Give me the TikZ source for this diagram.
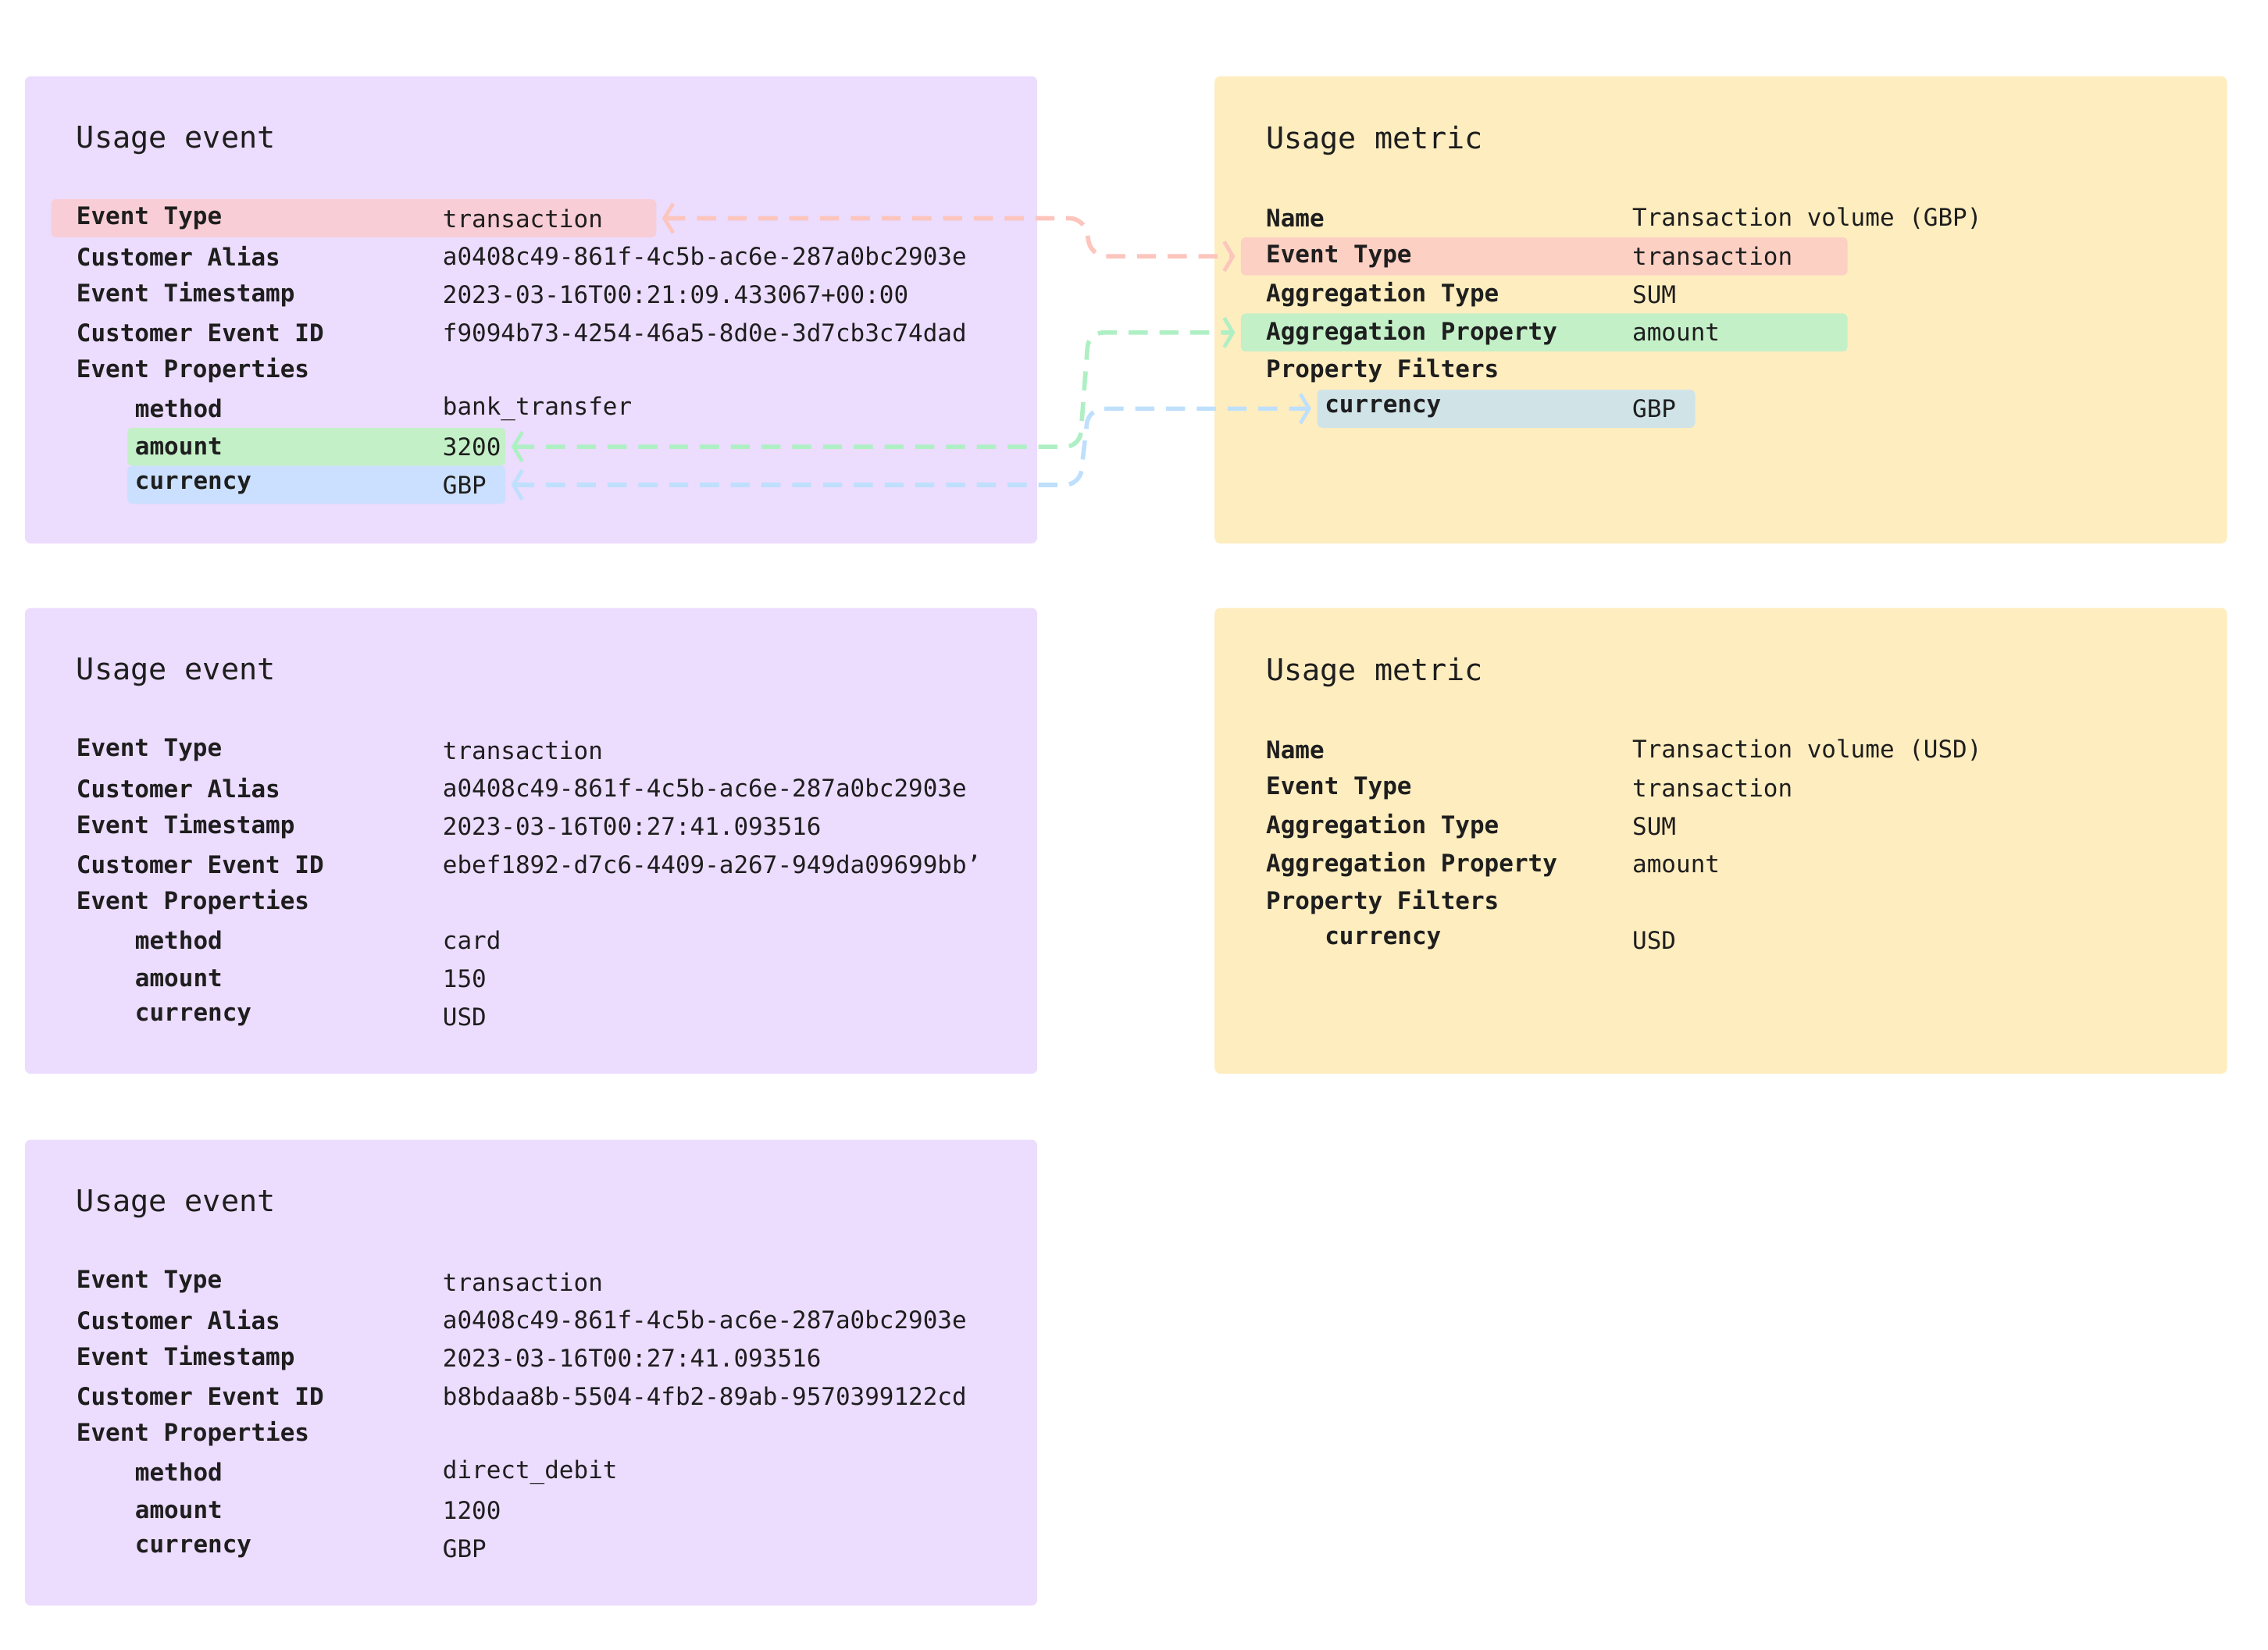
\documentclass[tikz,border=0pt]{standalone}
\usepackage{fontspec}
\setmainfont{DejaVu Sans Mono}
\usetikzlibrary{arrows.meta}
\definecolor{pbg}{HTML}{ECDCFE}
\definecolor{ybg}{HTML}{FEEDBF}
\definecolor{hred}{HTML}{F8CDD6}
\definecolor{hred2}{HTML}{FDD0C4}
\definecolor{hgreen}{HTML}{C4F0C8}
\definecolor{hblue}{HTML}{CBE0FE}
\definecolor{hblue2}{HTML}{D0E4E8}
\definecolor{ared}{HTML}{FCC5BD}
\definecolor{agreen}{HTML}{AEF0C4}
\definecolor{ablue}{HTML}{BFE0FC}
\definecolor{ink}{HTML}{1E1E1E}
\tikzset{
  card/.style={rounded corners=4pt},
  lab/.style={anchor=west, inner sep=0pt, text=ink, font=\fontsize{16.5}{18}\selectfont\bfseries},
  val/.style={anchor=west, inner sep=0pt, text=ink, font=\fontsize{16.5}{18}\selectfont},
  ttl/.style={anchor=west, inner sep=0pt, text=ink, font=\fontsize{20.5}{24}\selectfont},
  link/.style={line width=3pt, dash pattern=on 13pt off 8pt, rounded corners=10pt,
    {Straight Barb[length=6pt,width=20pt,line width=2.5pt]}-{Straight Barb[length=6pt,width=20pt,line width=2.5pt]}}
}
\newcommand{\evcard}[7]{%
  \node[ttl] (t#1) at (52,#2+44) {Usage event};
  \node[lab] (l1#1) at (52,#2+97) {Event Type};
  \node[val] (v1#1) at (302,#2+97) {transaction};
  \node[lab] (l2#1) at (52,#2+123) {Customer Alias};
  \node[val] (v2#1) at (302,#2+123) {a0408c49-861f-4c5b-ac6e-287a0bc2903e};
  \node[lab] (l3#1) at (52,#2+149) {Event Timestamp};
  \node[val] (v3#1) at (302,#2+149) {#3};
  \node[lab] (l4#1) at (52,#2+175) {Customer Event ID};
  \node[val] (v4#1) at (302,#2+175) {#4};
  \node[lab] (l5#1) at (52,#2+201) {Event Properties};
  \node[lab] (l6#1) at (92,#2+227) {method};
  \node[val] (v6#1) at (302,#2+227) {#5};
  \node[lab] (l7#1) at (92,#2+253) {amount};
  \node[val] (v7#1) at (302,#2+253) {#6};
  \node[lab] (l8#1) at (92,#2+279) {currency};
  \node[val] (v8#1) at (302,#2+279) {#7};
}
\newcommand{\mcard}[3]{%
  \node[ttl] (mt#1) at (864,#2+44) {Usage metric};
  \node[lab] (ml1#1) at (864,#2+97) {Name};
  \node[val] (mv1#1) at (1114,#2+97) {Transaction volume (#3)};
  \node[lab] (ml2#1) at (864,#2+123) {Event Type};
  \node[val] (mv2#1) at (1114,#2+123) {transaction};
  \node[lab] (ml3#1) at (864,#2+149) {Aggregation Type};
  \node[val] (mv3#1) at (1114,#2+149) {SUM};
  \node[lab] (ml4#1) at (864,#2+175) {Aggregation Property};
  \node[val] (mv4#1) at (1114,#2+175) {amount};
  \node[lab] (ml5#1) at (864,#2+201) {Property Filters};
  \node[lab] (ml6#1) at (904,#2+227) {currency};
  \node[val] (mv6#1) at (1114,#2+227) {#3};
}
\begin{document}
\begin{tikzpicture}[x=1pt,y=-1pt]
\useasboundingbox (0,0) rectangle (1548,1126);
\fill[pbg,card] (17,52) rectangle (708,371);
\fill[pbg,card] (17,415) rectangle (708,733);
\fill[pbg,card] (17,778) rectangle (708,1096);
\fill[ybg,card] (829,52) rectangle (1520,371);
\fill[ybg,card] (829,415) rectangle (1520,733);
\fill[hred,rounded corners=3pt] (35,136) rectangle (448,162);
\coordinate (hA) at (448,149);
\fill[hgreen,rounded corners=3pt] (87,292) rectangle (345,318);
\coordinate (hG) at (345,305);
\fill[hblue,rounded corners=3pt] (87,318) rectangle (345,344);
\coordinate (hB) at (345,331);
\fill[hred2,rounded corners=3pt] (847,162) rectangle (1261,188);
\coordinate (mA) at (847,175);
\fill[hgreen,rounded corners=3pt] (847,214) rectangle (1261,240);
\coordinate (mG) at (847,227);
\fill[hblue2,rounded corners=3pt] (899,266) rectangle (1157,292);
\coordinate (mB) at (899,279);
\draw[link,ared] ([xshift=4pt]hA) -- (740,149) -- (745,175) -- ([xshift=-4pt]mA);
\draw[link,agreen] ([xshift=4pt]hG) -- (737,305) -- (743,227) -- ([xshift=-4pt]mG);
\draw[link,ablue] ([xshift=4pt]hB) -- (737,331) -- (743,279) -- ([xshift=-4pt]mB);
\evcard{a}{52}{2023-03-16T00:21:09.433067+00:00}{f9094b73-4254-46a5-8d0e-3d7cb3c74dad}{bank\_transfer}{3200}{GBP}
\evcard{b}{415}{2023-03-16T00:27:41.093516}{ebef1892-d7c6-4409-a267-949da09699bb'}{card}{150}{USD}
\evcard{c}{778}{2023-03-16T00:27:41.093516}{b8bdaa8b-5504-4fb2-89ab-9570399122cd}{direct\_debit}{1200}{GBP}
\mcard{a}{52}{GBP}
\mcard{b}{415}{USD}
\end{tikzpicture}
\end{document}
